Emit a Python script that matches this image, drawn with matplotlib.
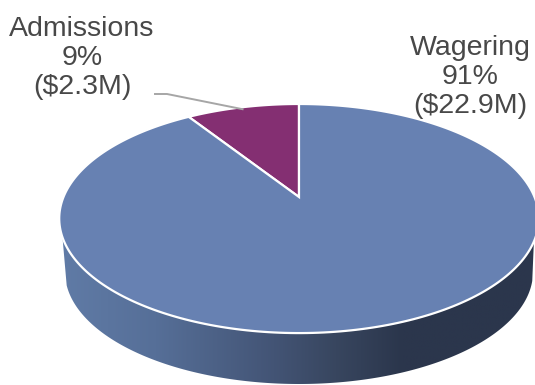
import matplotlib
matplotlib.use('Agg')
import matplotlib.pyplot as plt
from matplotlib.colors import LinearSegmentedColormap
from matplotlib.patches import Polygon
import numpy as np

labels = ['Admissions', 'Wagering']
shares = ['9%', '91%']
amounts = ['($2.3M)', '($22.9M)']
values = [2.3, 22.9]
colors = ['#842f72', '#6781b2']

# pie geometry in pixels, the disc is tilted so the far side looks smaller
cx, cy = 299, 197
radiusX, radiusY = 235.5, 110.5
tilt = 0.188


def rim(angles):
    # angles run clockwise from 12 o'clock
    u = np.sin(angles)
    v = np.cos(angles)
    w = 1 + tilt * v
    return cx + radiusX * u / w, cy - radiusY * v / w


def sector(start, end):
    t = np.linspace(start, end, 300)
    x, y = rim(t)
    return np.column_stack([np.r_[cx, x], np.r_[cy, y]])


plt.rcParams['font.family'] = ['Liberation Sans', 'DejaVu Sans']

fig = plt.figure(figsize=(5.35, 3.85), dpi=100)
ax = fig.add_axes([0, 0, 1, 1])
ax.axis('off')

total = sum(values)
sweep = 2 * np.pi * values[0] / total

# side wall, darkening to the right
topT = np.radians(np.linspace(112, 250, 300))
topX, topY = rim(topT)
t = np.linspace(0.12, np.pi - 0.08, 200)
lowX = 299 - 234 * np.cos(t)
lowY = 272 + 112 * np.sin(t)
wallPts = np.column_stack([np.r_[topX, lowX], np.r_[topY, lowY]])
wall = Polygon(wallPts, closed=True, facecolor='none', edgecolor='none', zorder=1)
ax.add_patch(wall)
wallCmap = LinearSegmentedColormap.from_list('wall', [
    (0.0, '#607ba6'), (0.2, '#566f98'), (0.45, '#435475'),
    (0.58, '#38465f'), (0.72, '#2b364c'), (1.0, '#2b364c')])
gradient = np.linspace(0, 1, 256).reshape(1, -1)
img = ax.imshow(gradient, cmap=wallCmap, extent=[60, 536, 385, 225], aspect='auto', zorder=1)
img.set_clip_path(wall)
ax.set_xlim(0, 535)
ax.set_ylim(385, 0)

# top face
ax.add_patch(Polygon(sector(-sweep, 0), closed=True, facecolor=colors[0],
                     edgecolor='white', linewidth=1.6, joinstyle='miter', zorder=2))
ax.add_patch(Polygon(sector(0, 2 * np.pi - sweep), closed=True, facecolor=colors[1],
                     edgecolor='white', linewidth=1.6, joinstyle='miter', zorder=2))

# leader line for the small slice
leadX, leadY = rim(-sweep / 2)
ax.plot([155, 167, leadX], [94, 94, leadY + 2], color='#a6a6a6', linewidth=1.4, zorder=3)

ax.text(82, 58, '\n'.join([labels[0], shares[0], amounts[0]]), ha='center', va='center',
        fontsize=20.5, color='#484848', linespacing=1.17, zorder=4)
ax.text(470, 77, '\n'.join([labels[1], shares[1], amounts[1]]), ha='center', va='center',
        fontsize=20.5, color='#484848', linespacing=1.17, zorder=4)

fig.savefig('out.png', dpi=100)
